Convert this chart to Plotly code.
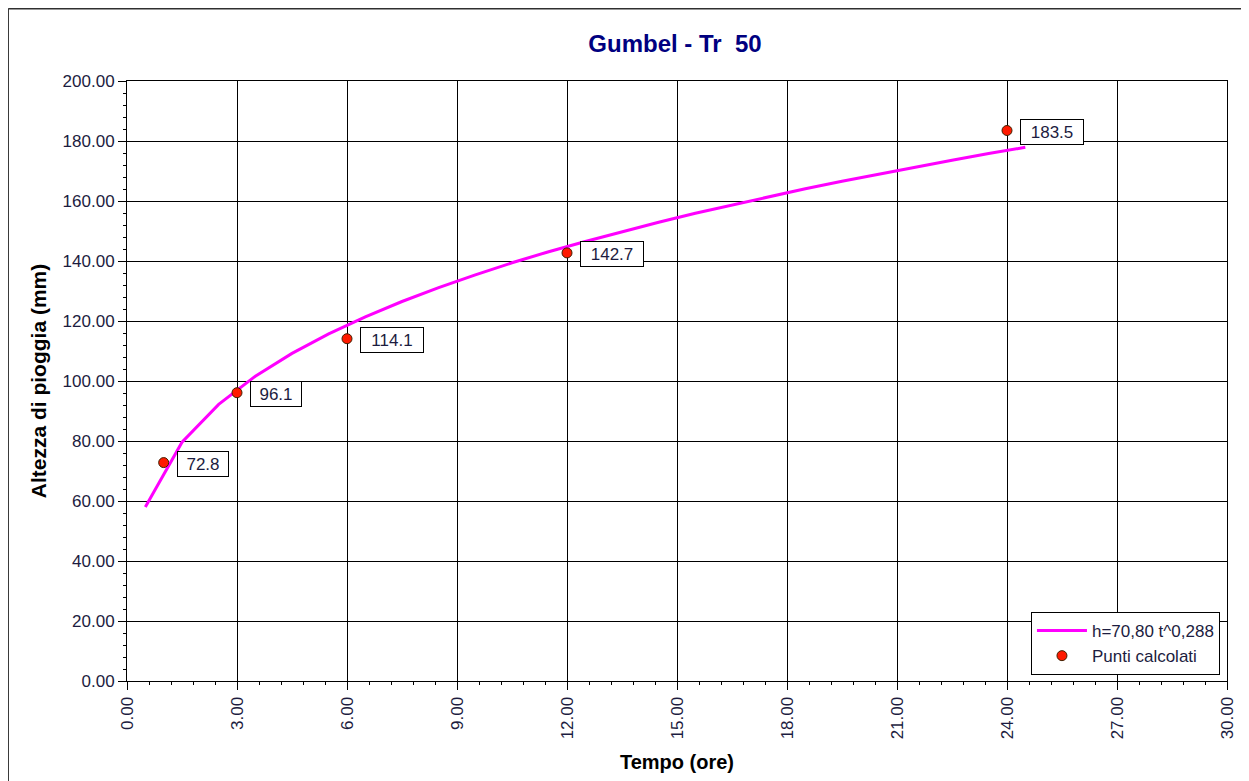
import plotly.graph_objects as go

# Data
curve_t = [0.5, 1.5, 2.5, 3.5, 4.5, 5.5, 6.5, 7.5, 8.5, 9.5, 10.5, 11.5, 12.5,
           13.5, 14.5, 15.5, 16.5, 17.5, 18.5, 19.5, 20.5, 21.5, 22.5, 23.5, 24.5]
curve_h = [58.0, 79.6, 92.2, 101.6, 109.2, 115.7, 121.4, 126.5, 131.1, 135.4, 139.4,
           143.1, 146.5, 149.8, 152.9, 155.9, 158.7, 161.5, 164.1, 166.6, 169.0,
           171.3, 173.6, 175.8, 177.9]
points_t = [1, 3, 6, 12, 24]
points_h = [72.8, 96.1, 114.1, 142.7, 183.5]
point_labels = ["72.8", "96.1", "114.1", "142.7", "183.5"]
x_ticks = [0, 3, 6, 9, 12, 15, 18, 21, 24, 27, 30]
y_ticks = [0, 20, 40, 60, 80, 100, 120, 140, 160, 180, 200]

FONT = "Liberation Sans, Arial, sans-serif"
TICK_COLOR = "#1c1c40"

W, H = 1241, 773  # page body has an 8px margin

fig = go.Figure()
fig.add_trace(go.Scatter(
    x=curve_t, y=curve_h, mode="lines", name="h=70,80 t^0,288",
    line=dict(color="#ff00ff", width=3),
))
fig.add_trace(go.Scatter(
    x=points_t, y=points_h, mode="markers", name="Punti calcolati",
    marker=dict(color="#ff1a00", size=10, line=dict(color="#402000", width=1)),
))

for t, h, lab in zip(points_t, points_h, point_labels):
    fig.add_annotation(
        x=t, y=h, text=lab, showarrow=False, xanchor="left", yanchor="middle",
        xshift=13, yshift=-1,
        width=(44 if len(lab) == 4 else 56), height=18, align="center",
        bordercolor="#000000", borderwidth=1, bgcolor="#ffffff",
        borderpad=3,
        font=dict(family=FONT, size=17, color=TICK_COLOR),
    )

# outer frame (left and top lines)
fig.add_shape(type="line", xref="paper", yref="paper",
              x0=-0.108, x1=1.03, y0=1.1205, y1=1.1205,
              line=dict(color="#303030", width=1.5))
fig.add_shape(type="line", xref="paper", yref="paper",
              x0=-0.108, x1=-0.108, y0=1.1205, y1=-0.2,
              line=dict(color="#303030", width=1.5))

fig.update_layout(
    width=W, height=H,
    margin=dict(l=119, r=20, t=73, b=100),
    paper_bgcolor="#ffffff", plot_bgcolor="#ffffff",
    title=dict(text="<b>Gumbel - Tr  50</b>", x=667 / W, xanchor="center",
               y=1 - 36 / H, yanchor="middle",
               font=dict(family=FONT, size=24, color="#000080")),
    showlegend=True,
    legend=dict(x=0.9936, y=0.115, xanchor="right", yanchor="top",
                bgcolor="#ffffff", bordercolor="#000000", borderwidth=1,
                font=dict(family=FONT, size=17, color=TICK_COLOR),
                tracegroupgap=2, itemwidth=50),
    xaxis=dict(
        range=[0, 30], tickvals=x_ticks, ticktext=[f"{v:.2f}" for v in x_ticks],
        tickangle=-90, ticks="outside", ticklen=8, tickcolor="#000000",
        showgrid=True, gridcolor="#000000", gridwidth=1,
        showline=True, linecolor="#000000", linewidth=1, mirror=True,
        zeroline=False,
        minor=dict(dtick=0.6, ticks="outside", ticklen=3, tickcolor="#000000", showgrid=False),
        tickfont=dict(family=FONT, size=17, color=TICK_COLOR),
        title=dict(text="<b>Tempo (ore)</b>", standoff=16,
                   font=dict(family=FONT, size=20, color="#000000")),
    ),
    yaxis=dict(
        range=[0, 200], tickvals=y_ticks, ticktext=[f"{v:.2f}" for v in y_ticks],
        ticks="outside", ticklen=8, tickcolor="#000000",
        showgrid=True, gridcolor="#000000", gridwidth=1,
        showline=True, linecolor="#000000", linewidth=1, mirror=True,
        zeroline=False,
        minor=dict(dtick=4, ticks="outside", ticklen=3, tickcolor="#000000", showgrid=False),
        tickfont=dict(family=FONT, size=17, color=TICK_COLOR),
        title=dict(text="<b>Altezza di pioggia (mm)</b>", standoff=10,
                   font=dict(family=FONT, size=21, color="#000000")),
    ),
)

fig.write_html("out.html")
